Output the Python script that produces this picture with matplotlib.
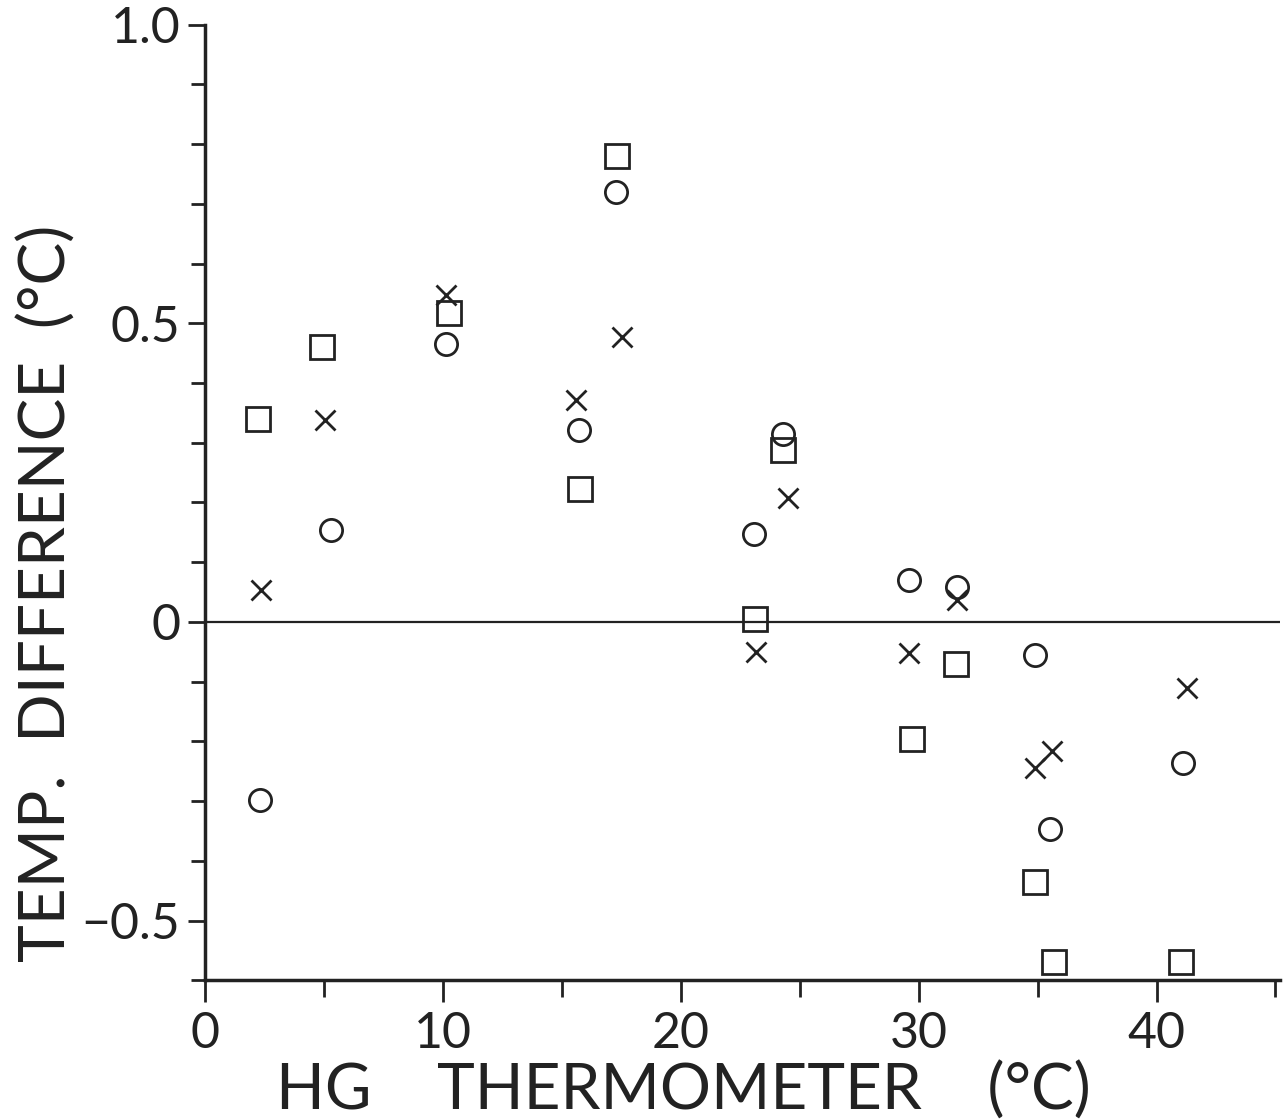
import matplotlib
matplotlib.use("Agg")
import matplotlib.pyplot as plt
from matplotlib.ticker import MultipleLocator

# readings taken off the original figure
sq_x = [2.2, 4.9, 10.25, 15.75, 17.3, 23.1, 24.3, 29.7, 31.55, 34.9, 35.7, 41.05]
sq_y = [0.34, 0.46, 0.517, 0.222, 0.78, 0.005, 0.288, -0.196, -0.07, -0.435, -0.57, -0.57]

ci_x = [2.3, 5.3, 10.1, 15.7, 17.27, 23.07, 24.3, 29.6, 31.6, 34.9, 35.5, 41.1]
ci_y = [-0.298, 0.154, 0.465, 0.321, 0.719, 0.147, 0.314, 0.07, 0.058, -0.055, -0.346, -0.236]

xx_x = [2.35, 5.04, 10.1, 15.6, 17.5, 23.15, 24.5, 29.6, 31.6, 34.9, 35.6, 41.3]
xx_y = [0.054, 0.338, 0.547, 0.371, 0.477, -0.05, 0.207, -0.052, 0.037, -0.244, -0.217, -0.11]

x_ticks = [0, 10, 20, 30, 40]
y_ticks = [-0.5, 0, 0.5, 1.0]
y_labels = ["\u22120.5", "0", "0.5", "1.0"]

plt.rcParams['font.family'] = ['Lato', 'DejaVu Sans']

ink = '#222222'

fig = plt.figure(figsize=(12.84, 11.19), dpi=100)
ax = fig.add_axes([0.16, 0.124, 0.837, 0.854])

ax.axhline(0, color=ink, lw=1.6, zorder=1)

ax.plot(sq_x, sq_y, ls='none', marker='s', ms=17, mfc='none', mec=ink, mew=2.0, zorder=3)
ax.plot(ci_x, ci_y, ls='none', marker='o', ms=16, mfc='none', mec=ink, mew=2.0, zorder=3)
ax.plot(xx_x, xx_y, ls='none', marker='x', ms=14.5, mec=ink, mew=2.0, zorder=3)

ax.set_xlim(0, 45.2)
ax.set_ylim(-0.6, 1.0)

ax.spines['top'].set_visible(False)
ax.spines['right'].set_visible(False)
for s in ['left', 'bottom']:
    ax.spines[s].set_linewidth(2.5)
    ax.spines[s].set_color(ink)

ax.set_xticks(x_ticks)
ax.set_xticklabels([str(t) for t in x_ticks])
ax.xaxis.set_minor_locator(MultipleLocator(5))
ax.set_yticks(y_ticks)
ax.set_yticklabels(y_labels)
ax.yaxis.set_minor_locator(MultipleLocator(0.1))

ax.tick_params(axis='both', which='both', direction='out', color=ink, width=2)
ax.tick_params(axis='x', which='major', length=16, pad=6, labelsize=36, labelcolor=ink)
ax.tick_params(axis='x', which='minor', length=12)
ax.tick_params(axis='y', which='major', length=12, pad=6, labelsize=36, labelcolor=ink)
ax.tick_params(axis='y', which='minor', length=10)

ax.set_xlabel("HG    THERMOMETER    (\u00b0C)", fontsize=46, color=ink)
ax.xaxis.set_label_coords(0.445, -0.085)
ax.set_ylabel("TEMP.  DIFFERENCE  (\u00b0C)", fontsize=46, color=ink)
ax.yaxis.set_label_coords(-0.12, 0.405)

fig.savefig("out.png", dpi=100, facecolor='white')
